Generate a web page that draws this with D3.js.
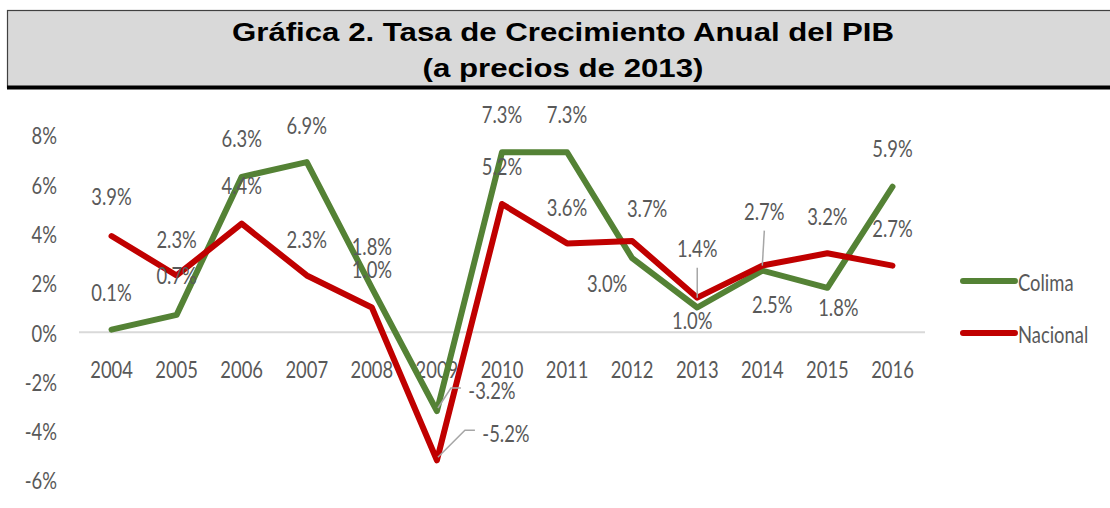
<!DOCTYPE html>
<html>
<head>
<meta charset="utf-8">
<script src="https://cdn.jsdelivr.net/npm/d3@7"></script>
<style>
  body { margin: 0; background: #fff; }
  #chart { width: 1110px; height: 508px; }
</style>
</head>
<body>
<div id="chart"></div>
<script>
// data
const years = ["2004", "2005", "2006", "2007", "2008", "2009", "2010", "2011", "2012", "2013", "2014", "2015", "2016"];
const colima = [0.1, 0.7, 6.3, 6.9, 1.8, -3.2, 7.3, 7.3, 3.0, 1.0, 2.5, 1.8, 5.9];
const nacional = [3.9, 2.3, 4.4, 2.3, 1.0, -5.2, 5.2, 3.6, 3.7, 1.4, 2.7, 3.2, 2.7];
const yTicks = [-6, -4, -2, 0, 2, 4, 6, 8];

// label placement (pixel offset from the point)
const colimaLabelPos = [[0, -38], [0, -40], [0, -39], [0, -37], [0, -42], [55, -21], [0, -39],
  [0, -39], [-25, 24], [-5, 12], [10, 33], [11, 19], [0, -39]];
const nacionalLabelPos = [[0, -40], [0, -37], [0, -39], [0, -37], [0, -39], [69, -28], [0, -38],
  [0, -37], [15, -33], [0, -50], [2, -55], [0, -38], [0, -38]];
const leaders = [
  { series: "Colima", year: "2009", kind: "side" },
  { series: "Nacional", year: "2009", kind: "side" },
  { series: "Nacional", year: "2013", kind: "up" },
  { series: "Nacional", year: "2014", kind: "up" }
];

const width = 1110, height = 508;
const textColor = "#595959";
const sx = 0.8; // condensed look of the original font

const svg = d3.select("#chart")
  .append("svg")
  .attr("width", width)
  .attr("height", height)
  .style("font-family", "Lato, 'Open Sans', sans-serif");

// title box

svg.append("rect")
  .attr("x", 7.5).attr("y", 10.5)
  .attr("width", width).attr("height", 77)
  .attr("fill", "#d9d9d9")
  .attr("stroke", "#404040")
  .attr("stroke-width", 1.2);

svg.append("line")
  .attr("x1", 7).attr("x2", width)
  .attr("y1", 87.5).attr("y2", 87.5)
  .attr("stroke", "#000")
  .attr("stroke-width", 4);

const title = svg.append("text")
  .attr("text-anchor", "middle")
  .attr("transform", "translate(563,0) scale(1.2,1)")
  .style("font-family", "'Liberation Sans', Arial, sans-serif")
  .style("font-weight", "bold")
  .style("font-size", "26px")
  .attr("fill", "#000");
title.append("tspan").attr("x", 0).attr("y", 41).text("Gráfica 2. Tasa de Crecimiento Anual del PIB");
title.append("tspan").attr("x", 0).attr("y", 77).text("(a precios de 2013)");

// scales

const x = d3.scalePoint().domain(years).range([79, 925]).padding(0.5);
const y = d3.scaleLinear().domain([-6, 8]).range([480, 135]);

function squished(sel, fx, fy) {
  sel.attr("text-anchor", "middle")
    .attr("dominant-baseline", "central")
    .attr("transform", (d, i) => "translate(" + fx(d, i) + "," + fy(d, i) + ") scale(" + sx + ",1)");
}

// y tick labels

svg.append("g")
  .selectAll("text")
  .data(yTicks)
  .join("text")
  .attr("text-anchor", "end")
  .attr("dominant-baseline", "central")
  .attr("transform", d => "translate(57," + y(d) + ") scale(" + sx + ",1)")
  .style("font-size", "23px")
  .attr("fill", textColor)
  .text(d => d + "%");

// zero line

svg.append("line")
  .attr("x1", 79).attr("x2", 925)
  .attr("y1", y(0)).attr("y2", y(0))
  .attr("stroke", "#d9d9d9")
  .attr("stroke-width", 2);

// x labels

svg.append("g")
  .selectAll("text")
  .data(years)
  .join("text")
  .call(squished, d => x(d), () => 369)
  .style("font-size", "23px")
  .attr("fill", textColor)
  .text(d => d);

// lines

const series = [
  { name: "Colima", values: colima, color: "#548235", pos: colimaLabelPos },
  { name: "Nacional", values: nacional, color: "#c00000", pos: nacionalLabelPos }
];

const line = d3.line()
  .x((d, i) => x(years[i]))
  .y(d => y(d));

svg.append("g")
  .selectAll("path")
  .data(series)
  .join("path")
  .attr("d", d => line(d.values))
  .attr("fill", "none")
  .attr("stroke", d => d.color)
  .attr("stroke-width", 6)
  .attr("stroke-linejoin", "round")
  .attr("stroke-linecap", "round");

// leader lines

const lg = svg.append("g");
leaders.forEach(function (l) {
  const s = series.find(d => d.name === l.series);
  const i = years.indexOf(l.year);
  const px = x(l.year), py = y(s.values[i]);
  const lx = px + s.pos[i][0], ly = py + s.pos[i][1];
  let pts;
  if (l.kind === "side") {
    pts = [[px + 1, py - 3], [lx - 41, ly - 2], [lx - 31, ly - 2]];
  } else {
    pts = [[px, py], [lx, ly + 20]];
  }
  lg.append("path")
    .attr("d", d3.line()(pts))
    .attr("fill", "none")
    .attr("stroke", "#a6a6a6")
    .attr("stroke-width", 1.5);
});

// data labels

series.forEach(function (s) {
  svg.append("g")
    .selectAll("text")
    .data(s.values)
    .join("text")
    .call(squished, (d, i) => x(years[i]) + s.pos[i][0], (d, i) => y(d) + s.pos[i][1])
    .style("font-size", "23px")
    .attr("fill", textColor)
    .text(d => d.toFixed(1) + "%");
});

// legend

const legend = svg.append("g")
  .selectAll("g")
  .data(series)
  .join("g")
  .attr("transform", (d, i) => "translate(963," + (281 + i * 52) + ")");

legend.append("line")
  .attr("x1", 0).attr("x2", 52)
  .attr("stroke", d => d.color)
  .attr("stroke-width", 6)
  .attr("stroke-linecap", "round");

legend.append("text")
  .attr("dominant-baseline", "central")
  .attr("transform", "translate(55,1) scale(" + sx + ",1)")
  .style("font-size", "23px")
  .attr("fill", textColor)
  .text(d => d.name);
</script>
</body>
</html>
